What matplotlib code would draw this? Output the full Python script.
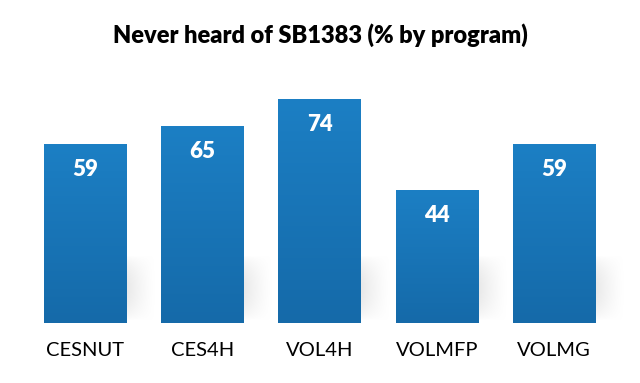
import numpy as np
import matplotlib.pyplot as plt
from matplotlib.colors import LinearSegmentedColormap

programs = ["CESNUT", "CES4H", "VOL4H", "VOLMFP", "VOLMG"]
never_heard = [59, 65, 74, 44, 59]

plt.rcParams['font.family'] = ['Lato', 'DejaVu Sans']

fig = plt.figure(figsize=(6.4, 3.83), dpi=100)
ax = fig.add_axes([0, 0.1567, 1, 0.6867])
x = np.arange(len(programs))
w = 0.70

# soft shadow behind the bars
shade = LinearSegmentedColormap.from_list("shade", ["#ffffff", "#b8b8b8"])
for xi in x:
    gx = np.linspace(1, 0, 60) ** 1.3
    gy = np.linspace(0, 1, 40)[:, None]
    a = gx[None, :] * np.sin(np.pi * gy) ** 0.7
    ax.imshow(a, cmap=shade, vmin=0, vmax=1, origin="lower", aspect="auto",
              extent=(xi, xi + w / 2 + 0.25, 0.5, 22), zorder=1,
              interpolation="bilinear")

bars = ax.bar(x, never_heard, width=w, color="#1a78bd", zorder=2)
grad = LinearSegmentedColormap.from_list("blue", ["#156aa9", "#1c7fc4"])
for b in bars:
    im = ax.imshow(np.linspace(0, 1, 100)[:, None], cmap=grad, origin="lower",
                   aspect="auto", extent=(b.get_x(), b.get_x() + b.get_width(),
                                          0, b.get_height()), zorder=3)
    im.set_clip_path(b)

for xi, v in zip(x, never_heard):
    ax.text(xi, v - 5, str(v), ha="center", va="top", color="white",
            fontsize=16, fontweight="heavy", zorder=4)

ax.set_xlim(-0.725, 4.733)
ax.set_ylim(0, 86.8)
ax.set_xticks(x)
ax.set_xticklabels(programs, fontsize=14.5)
ax.tick_params(length=0, pad=14)
ax.set_yticks([])
for s in ax.spines.values():
    s.set_visible(False)

fig.text(0.5, 0.908, "Never heard of SB1383 (% by program)", ha="center",
         va="center", fontsize=17, fontweight="heavy")

fig.savefig("out.png", dpi=100)
